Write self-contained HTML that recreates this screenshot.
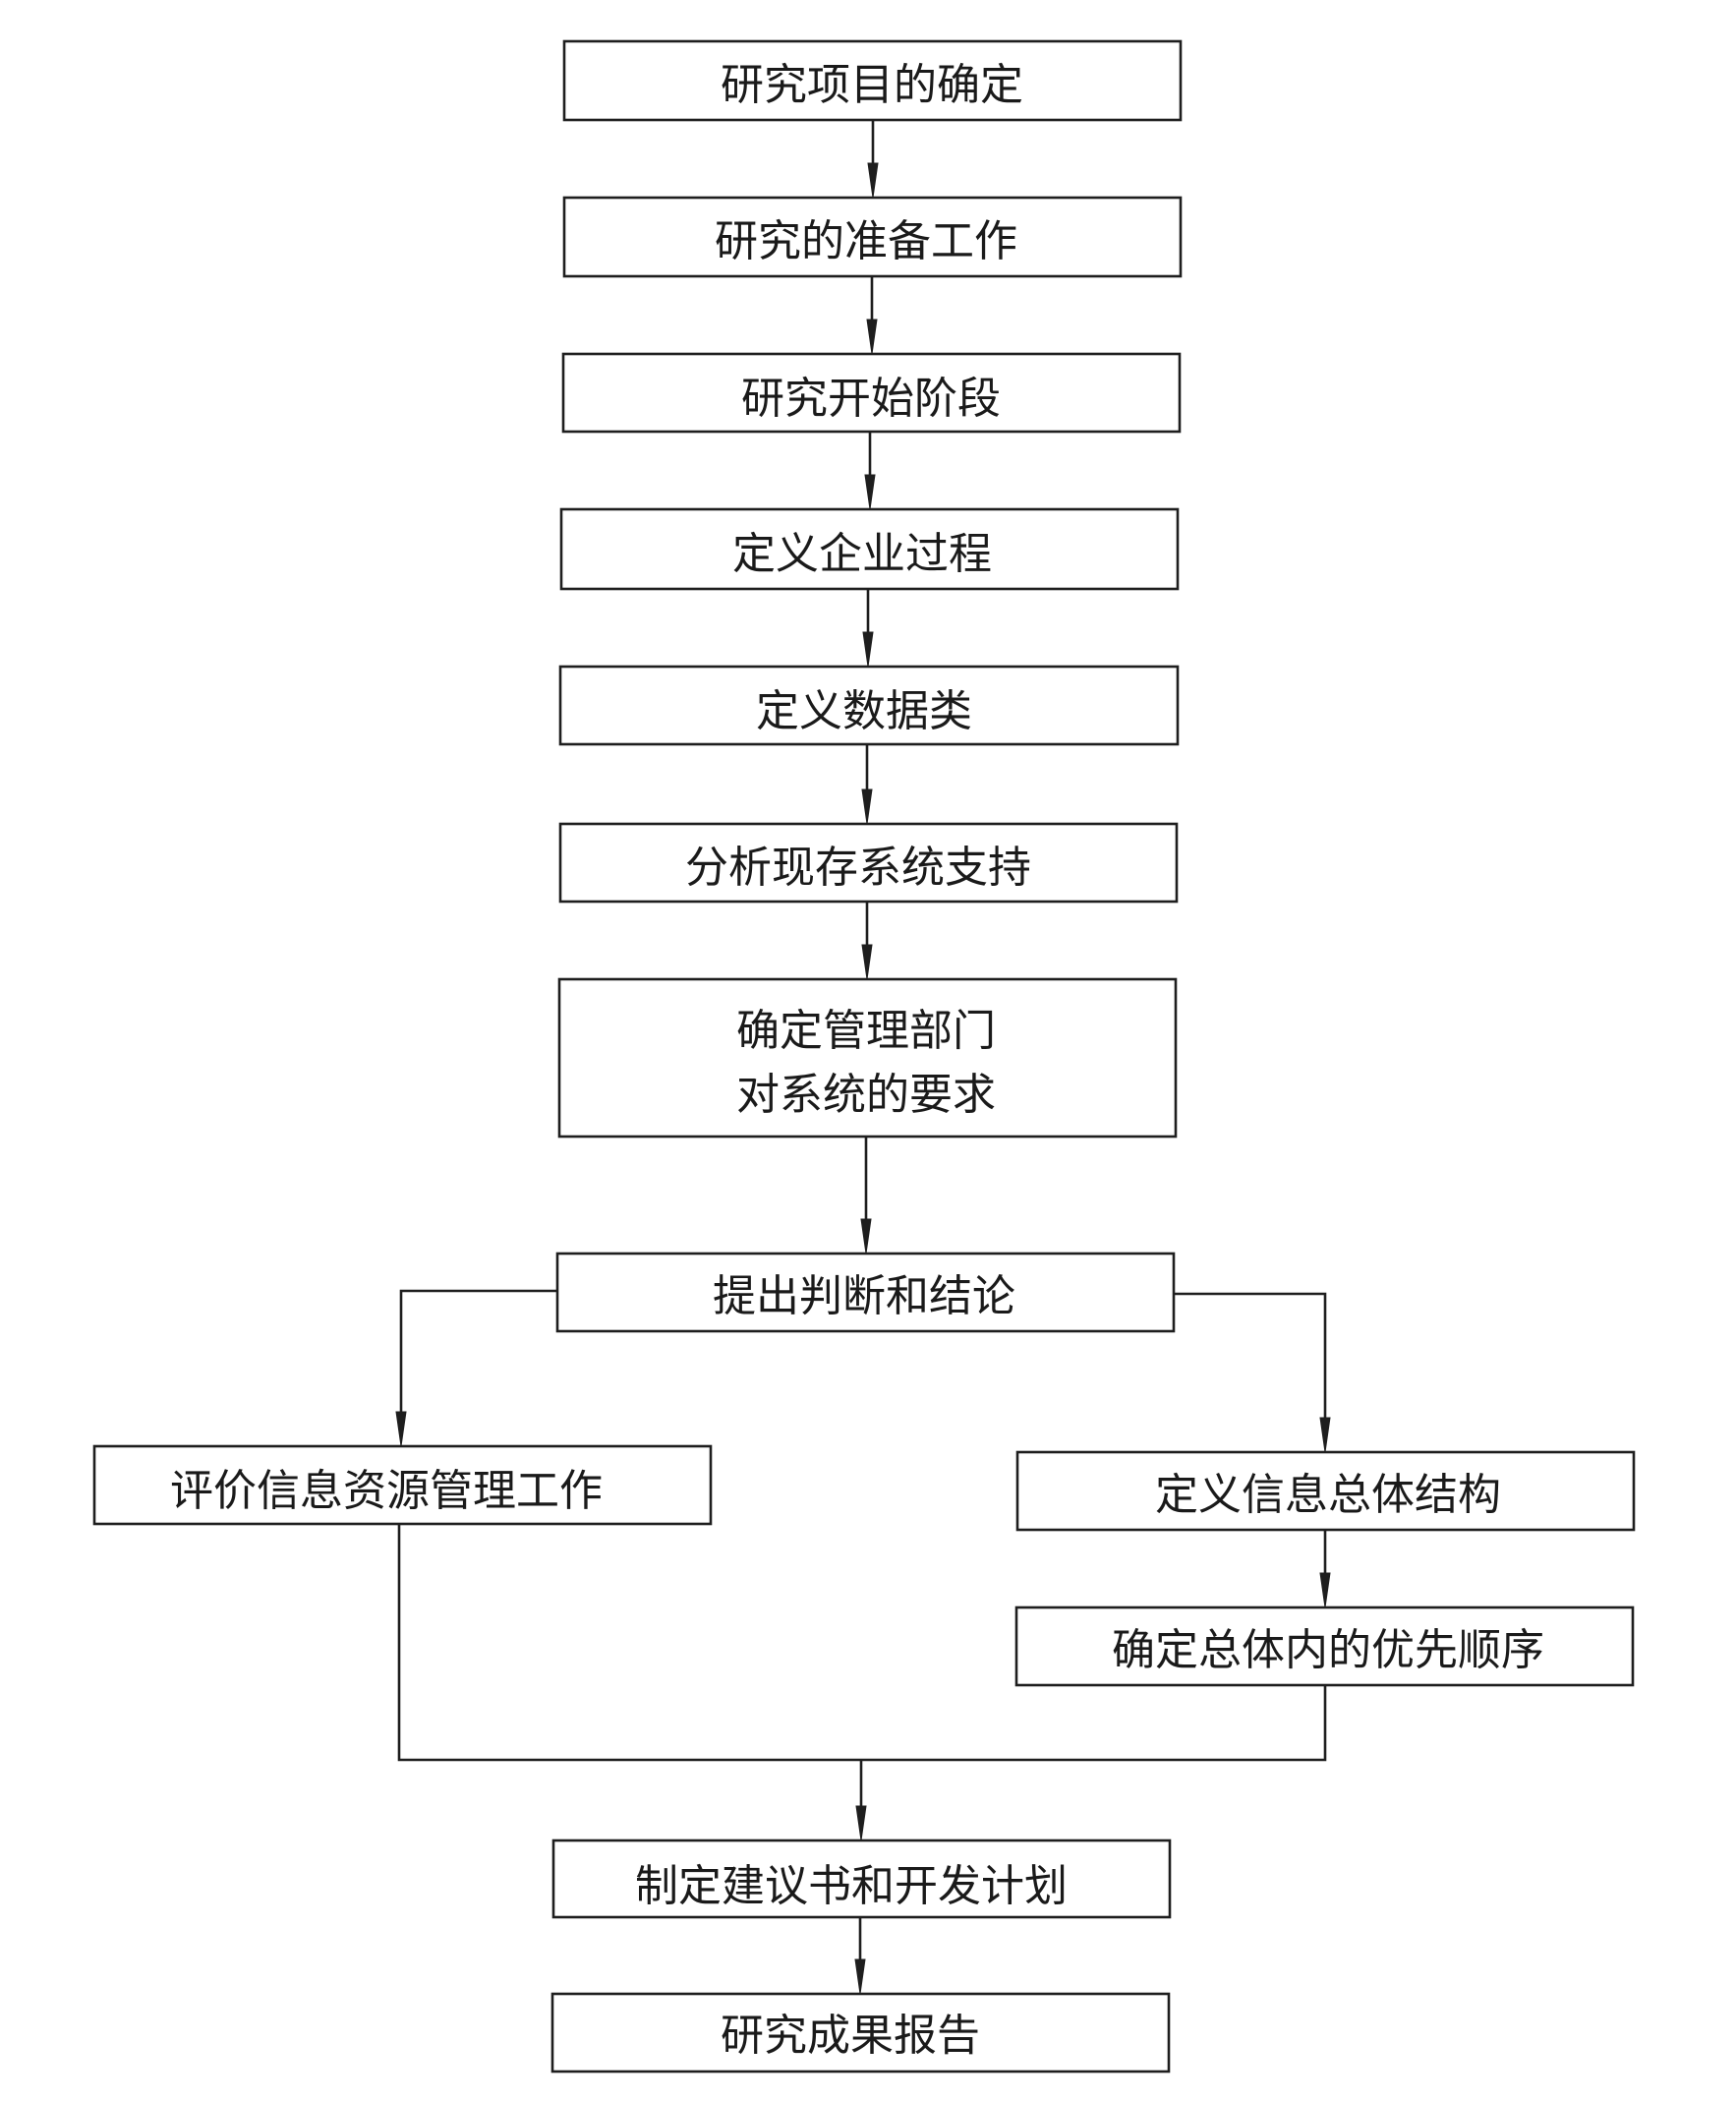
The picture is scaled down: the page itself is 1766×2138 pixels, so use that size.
<!DOCTYPE html>
<html>
<head>
<meta charset="utf-8">
<style>
  html,body{margin:0;padding:0;background:#fff;}
  body{width:1766px;height:2138px;overflow:hidden;}
  svg{display:block;}
  text{font-family:"Liberation Sans","Noto Sans CJK SC","WenQuanYi Zen Hei",sans-serif;font-size:44px;fill:#1a1a1a;text-anchor:middle;}
</style>
</head>
<body>
<svg width="1766" height="2138" viewBox="0 0 1766 2138" xmlns="http://www.w3.org/2000/svg">
  <g fill="none" stroke="#1e1e1e" stroke-width="2.6">
    <!-- boxes -->
    <rect x="574" y="42" width="627" height="80"/>
    <rect x="574" y="201" width="627" height="80"/>
    <rect x="573" y="360" width="627" height="79"/>
    <rect x="571" y="518" width="627" height="81"/>
    <rect x="570" y="678" width="628" height="79"/>
    <rect x="570" y="838" width="627" height="79"/>
    <rect x="569" y="996" width="627" height="160"/>
    <rect x="567" y="1275" width="627" height="79"/>
    <rect x="96" y="1471" width="627" height="79"/>
    <rect x="1035" y="1477" width="627" height="79"/>
    <rect x="1034" y="1635" width="627" height="79"/>
    <rect x="563" y="1872" width="627" height="78"/>
    <rect x="562" y="2028" width="627" height="79"/>

    <!-- vertical connectors (main column) -->
    <line x1="888" y1="122" x2="888" y2="170"/>
    <line x1="887" y1="281" x2="887" y2="328"/>
    <line x1="885" y1="439" x2="885" y2="486"/>
    <line x1="883" y1="599" x2="883" y2="646"/>
    <line x1="882" y1="757" x2="882" y2="806"/>
    <line x1="882" y1="917" x2="882" y2="964"/>
    <line x1="881" y1="1156" x2="881" y2="1243"/>

    <!-- left branch -->
    <polyline points="567,1313 408,1313 408,1439"/>
    <!-- right branch -->
    <polyline points="1194,1316 1348,1316 1348,1445"/>
    <line x1="1348" y1="1556" x2="1348" y2="1603"/>

    <!-- merge -->
    <polyline points="406,1550 406,1790 1348,1790 1348,1714"/>
    <line x1="876" y1="1790" x2="876" y2="1840"/>
    <line x1="875" y1="1950" x2="875" y2="1996"/>
  </g>

  <!-- arrowheads -->
  <g fill="#1e1e1e" stroke="#1e1e1e" stroke-width="1">
    <polygon points="883,166 893,166 888,201"/>
    <polygon points="882,325 892,325 887,360"/>
    <polygon points="880,483 890,483 885,518"/>
    <polygon points="878,643 888,643 883,678"/>
    <polygon points="877,803 887,803 882,838"/>
    <polygon points="877,961 887,961 882,996"/>
    <polygon points="876,1240 886,1240 881,1275"/>
    <polygon points="403,1436 413,1436 408,1471"/>
    <polygon points="1343,1442 1353,1442 1348,1477"/>
    <polygon points="1343,1600 1353,1600 1348,1635"/>
    <polygon points="871,1837 881,1837 876,1872"/>
    <polygon points="870,1993 880,1993 875,2028"/>
  </g>

  <!-- labels -->
  <text x="887" y="101">研究项目的确定</text>
  <text x="881" y="260">研究的准备工作</text>
  <text x="886" y="420">研究开始阶段</text>
  <text x="877" y="578">定义企业过程</text>
  <text x="879" y="738">定义数据类</text>
  <text x="873" y="897">分析现存系统支持</text>
  <text x="881" y="1063">确定管理部门</text>
  <text x="881" y="1128">对系统的要求</text>
  <text x="879" y="1333">提出判断和结论</text>
  <text x="393" y="1531">评价信息资源管理工作</text>
  <text x="1351" y="1535">定义信息总体结构</text>
  <text x="1351" y="1693">确定总体内的优先顺序</text>
  <text x="866" y="1933">制定建议书和开发计划</text>
  <text x="865" y="2085">研究成果报告</text>
</svg>
</body>
</html>
